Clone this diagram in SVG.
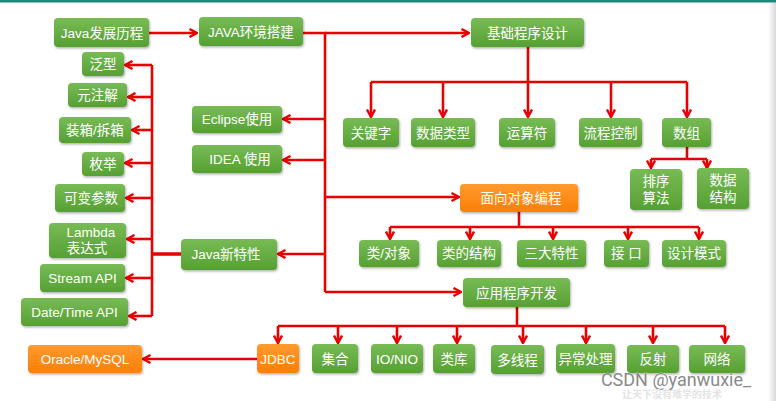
<svg xmlns="http://www.w3.org/2000/svg" width="776" height="401" viewBox="0 0 776 401">
<defs>
<linearGradient id="g" x1="0" y1="0" x2="0" y2="1"><stop offset="0" stop-color="#78bb55"/><stop offset="1" stop-color="#56a033"/></linearGradient>
<linearGradient id="o" x1="0" y1="0" x2="0" y2="1"><stop offset="0" stop-color="#ff9a2e"/><stop offset="1" stop-color="#fb7f06"/></linearGradient>
<linearGradient id="edge" x1="0" y1="0" x2="1" y2="0"><stop offset="0" stop-color="#ffffff"/><stop offset="1" stop-color="#d8d8d8"/></linearGradient>
<filter id="sh" x="-10%" y="-20%" width="125%" height="150%"><feDropShadow dx="1" dy="1.5" stdDeviation="1.2" flood-color="#000" flood-opacity="0.3"/></filter>
<marker id="arr" viewBox="0 0 10 10" refX="9" refY="5" markerWidth="10" markerHeight="10" orient="auto" markerUnits="userSpaceOnUse"><path d="M1.5,1 L9,5 L1.5,9" fill="none" stroke="#e60000" stroke-width="2.4"/></marker>
</defs>
<style>
.g{fill:url(#g);filter:url(#sh)}
.o{fill:url(#o);filter:url(#sh)}
text{font-family:"Liberation Sans","Noto Sans CJK SC",sans-serif;font-size:13.5px;fill:#fff;text-anchor:middle;dominant-baseline:central}
.c path{fill:none;stroke:#e60000;stroke-width:2.6}
.a{marker-end:url(#arr)}
</style>
<rect width="776" height="401" fill="#fff"/>
<rect x="768" y="0" width="8" height="401" fill="url(#edge)"/>
<rect x="0" y="0" width="776" height="2.5" fill="#1b8a7a"/>

<g class="c">
<path class="a" d="M149,33 H197"/>
<path d="M303,33 H325 V292"/>
<path class="a" d="M325,33 H469"/>
<path class="a" d="M325,292 H461"/>
<path class="a" d="M325,119 H283"/>
<path class="a" d="M325,160 H283"/>
<path class="a" d="M325,197 H459"/>
<path class="a" d="M325,254 H278"/>
<path d="M181,254 H152" style="stroke-width:3.5"/>
<path d="M152,65 V316"/>
<path class="a" d="M152,65 H125"/>
<path class="a" d="M152,97 H128"/>
<path class="a" d="M152,130 H132"/>
<path class="a" d="M152,163 H125"/>
<path class="a" d="M152,198 H126"/>
<path class="a" d="M152,239 H127"/>
<path class="a" d="M152,278 H126"/>
<path class="a" d="M152,316 H129"/>
<path d="M528,47 V82 M371,82 H687"/>
<path class="a" d="M371,82 V117"/>
<path class="a" d="M443,82 V117"/>
<path class="a" d="M528,82 V117"/>
<path class="a" d="M611,82 V117"/>
<path class="a" d="M687,82 V117"/>
<path d="M687,147 V159 M651,159 H707"/>
<path class="a" d="M651,159 V168"/>
<path class="a" d="M707,159 V168"/>
<path d="M519,212 V227 M390,227 H699"/>
<path class="a" d="M390,227 V239"/>
<path class="a" d="M470,227 V239"/>
<path class="a" d="M553,227 V239"/>
<path class="a" d="M628,227 V239"/>
<path class="a" d="M699,227 V239"/>
<path d="M517,307 V326 M278,326 H725"/>
<path class="a" d="M278,326 V343"/>
<path class="a" d="M338,326 V343"/>
<path class="a" d="M397,326 V343"/>
<path class="a" d="M457,326 V343"/>
<path class="a" d="M523,326 V343"/>
<path class="a" d="M586,326 V343"/>
<path class="a" d="M653,326 V343"/>
<path class="a" d="M725,326 V343"/>
<path class="a" d="M257,359 H143"/>
</g>

<g id="n-java-history"><rect class="g" x="54" y="18" width="95" height="29" rx="4"/><text x="102" y="33">Java发展历程</text></g>
<g id="n-java-env"><rect class="g" x="199" y="17" width="104" height="29" rx="4"/><text x="251" y="32">JAVA环境搭建</text></g>
<g id="n-basic"><rect class="g" x="471" y="18" width="113" height="29" rx="4"/><text x="527.5" y="33">基础程序设计</text></g>
<g id="n-keyword"><rect class="g" x="343" y="118" width="56" height="29" rx="4"/><text x="371" y="133">关键字</text></g>
<g id="n-datatype"><rect class="g" x="411" y="118" width="64" height="29" rx="4"/><text x="443" y="133">数据类型</text></g>
<g id="n-operator"><rect class="g" x="499" y="118" width="56" height="29" rx="4"/><text x="527" y="133">运算符</text></g>
<g id="n-flow"><rect class="g" x="579" y="118" width="63" height="29" rx="4"/><text x="610.5" y="133">流程控制</text></g>
<g id="n-array"><rect class="g" x="662" y="118" width="49" height="29" rx="4"/><text x="686.5" y="133">数组</text></g>
<g id="n-sort"><rect class="g" x="630" y="169" width="52" height="41" rx="4"/><text x="656" y="181">排序</text><text x="656" y="198">算法</text></g>
<g id="n-ds"><rect class="g" x="697" y="168" width="52" height="41" rx="4"/><text x="723" y="180">数据</text><text x="723" y="197">结构</text></g>
<g id="n-oop"><rect class="o" x="460" y="184" width="118" height="28" rx="4"/><text x="521" y="198">面向对象编程</text></g>
<g id="n-class"><rect class="g" x="359" y="240" width="60" height="27" rx="4"/><text x="389" y="253.5">类/对象</text></g>
<g id="n-classstruct"><rect class="g" x="437" y="240" width="64" height="27" rx="4"/><text x="469" y="253.5">类的结构</text></g>
<g id="n-features"><rect class="g" x="517" y="240" width="69" height="27" rx="4"/><text x="551.5" y="253.5">三大特性</text></g>
<g id="n-interface"><rect class="g" x="604" y="240" width="45" height="27" rx="4"/><text x="626.5" y="253.5">接 口</text></g>
<g id="n-pattern"><rect class="g" x="662" y="240" width="64" height="27" rx="4"/><text x="694" y="253.5">设计模式</text></g>
<g id="n-app"><rect class="g" x="463" y="278" width="107" height="29" rx="4"/><text x="516.5" y="293">应用程序开发</text></g>
<g id="n-jdbc"><rect class="o" x="257" y="344" width="42" height="29" rx="4"/><text x="278" y="359">JDBC</text></g>
<g id="n-collection"><rect class="g" x="312" y="344" width="46" height="29" rx="4"/><text x="335" y="359">集合</text></g>
<g id="n-io"><rect class="g" x="371" y="344" width="52" height="29" rx="4"/><text x="397" y="359">IO/NIO</text></g>
<g id="n-lib"><rect class="g" x="433" y="344" width="42" height="29" rx="4"/><text x="454" y="359">类库</text></g>
<g id="n-thread"><rect class="g" x="491" y="345" width="53" height="29" rx="4"/><text x="517.5" y="360">多线程</text></g>
<g id="n-exception"><rect class="g" x="556" y="344" width="59" height="29" rx="4"/><text x="585.5" y="359">异常处理</text></g>
<g id="n-reflect"><rect class="g" x="627" y="345" width="52" height="28" rx="4"/><text x="653" y="359">反射</text></g>
<g id="n-net"><rect class="g" x="689" y="345" width="56" height="28" rx="4"/><text x="717" y="359">网络</text></g>
<g id="n-db"><rect class="o" x="28" y="345" width="114" height="28" rx="4"/><text x="85" y="359">Oracle/MySQL</text></g>
<g id="n-eclipse"><rect class="g" x="192" y="106" width="90" height="27" rx="4"/><text x="237" y="119.5">Eclipse使用</text></g>
<g id="n-idea"><rect class="g" x="192" y="145" width="90" height="28" rx="4"/><text x="240" y="159.5">IDEA 使用</text></g>
<g id="n-newfeat"><rect class="g" x="181" y="239" width="96" height="31" rx="4"/><text x="226" y="254.5">Java新特性</text></g>
<g id="n-generic"><rect class="g" x="82" y="52" width="42" height="24" rx="4"/><text x="103" y="64">泛型</text></g>
<g id="n-annotation"><rect class="g" x="68" y="83" width="59" height="24" rx="4"/><text x="97.5" y="95">元注解</text></g>
<g id="n-boxing"><rect class="g" x="59" y="117" width="72" height="26" rx="4"/><text x="95" y="130">装箱/拆箱</text></g>
<g id="n-enum"><rect class="g" x="82" y="152" width="42" height="24" rx="4"/><text x="103" y="164">枚举</text></g>
<g id="n-varargs"><rect class="g" x="55" y="184" width="70" height="28" rx="4"/><text x="91" y="198">可变参数</text></g>
<g id="n-lambda"><rect class="g" x="49" y="223" width="77" height="35" rx="4"/><text x="91" y="232">Lambda</text><text x="87" y="248">表达式</text></g>
<g id="n-stream"><rect class="g" x="40" y="264" width="85" height="28" rx="4"/><text x="82.5" y="278">Stream API</text></g>
<g id="n-datetime"><rect class="g" x="21" y="298" width="107" height="28" rx="4"/><text x="74.5" y="312">Date/Time API</text></g>

<text x="676" y="379" style="font-family:Roboto,'Liberation Sans',sans-serif;font-size:18px;fill:#8a8a8a;stroke:#fff;stroke-width:0.6;paint-order:stroke">CSDN @yanwuxie_</text>
<text x="672" y="393.5" style="font-family:'Noto Sans CJK SC',sans-serif;font-size:10px;fill:#e4e4e4;font-weight:bold">让天下没有难学的技术</text>
</svg>
